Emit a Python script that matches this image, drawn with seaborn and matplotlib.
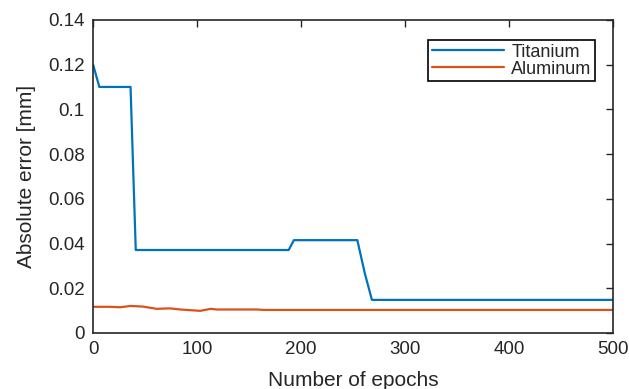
import pandas as pd
import numpy as np
import matplotlib
matplotlib.use('Agg')
import matplotlib.pyplot as plt
import seaborn as sns

# values
ti_epochs = [0, 6, 36, 41, 188, 193, 254, 261, 268, 500]
ti_error = [0.12, 0.11, 0.11, 0.0371, 0.0371, 0.0415, 0.0415, 0.027, 0.0148, 0.0148]
al_epochs = [0, 16, 26, 36, 48, 61, 74, 84, 103, 113, 119, 158, 164, 500]
al_error = [0.0117, 0.0117, 0.0115, 0.0121, 0.0118, 0.0108, 0.0110, 0.0105, 0.0099,
            0.0108, 0.0105, 0.0105, 0.0103, 0.0103]
x_ticks = [0, 100, 200, 300, 400, 500]
y_ticks = [0, 0.02, 0.04, 0.06, 0.08, 0.1, 0.12, 0.14]

sns.set_style('white')
plt.rcParams['font.family'] = ['Liberation Sans', 'DejaVu Sans']

df = pd.concat([
    pd.DataFrame({'epoch': ti_epochs, 'error': ti_error, 'material': 'Titanium'}),
    pd.DataFrame({'epoch': al_epochs, 'error': al_error, 'material': 'Aluminum'}),
])

fig = plt.figure(figsize=(6.29, 3.89), dpi=100)
ax = fig.add_axes([0.148, 0.144, 0.827, 0.805])
sns.lineplot(data=df, x='epoch', y='error', hue='material', sort=False,
             palette={'Titanium': '#0072BD', 'Aluminum': '#D95319'},
             linewidth=1.6, ax=ax)

ax.set_xlim(0, 500)
ax.set_ylim(0, 0.14)
ax.set_xticks(x_ticks)
ax.set_yticks(y_ticks)
ax.set_yticklabels(['%g' % v for v in y_ticks])
ax.tick_params(direction='in', top=True, right=True, length=5, width=1,
               labelsize=13.5, color='#262626', labelcolor='#262626', pad=6)
for s in ax.spines.values():
    s.set_color('#262626')
    s.set_linewidth(1.2)
ax.set_xlabel('Number of epochs', fontsize=15, color='#262626', labelpad=9)
ax.set_ylabel('Absolute error [mm]', fontsize=15, color='#262626', labelpad=9)

leg = ax.legend(loc='upper right', bbox_to_anchor=(0.965, 0.935), fontsize=13,
                fancybox=False, framealpha=1, edgecolor='black', borderpad=0.2,
                labelspacing=0.0, handlelength=4.0, handletextpad=0.4,
                borderaxespad=0)
leg.get_frame().set_linewidth(1.2)

fig.savefig('out.png', dpi=100)
